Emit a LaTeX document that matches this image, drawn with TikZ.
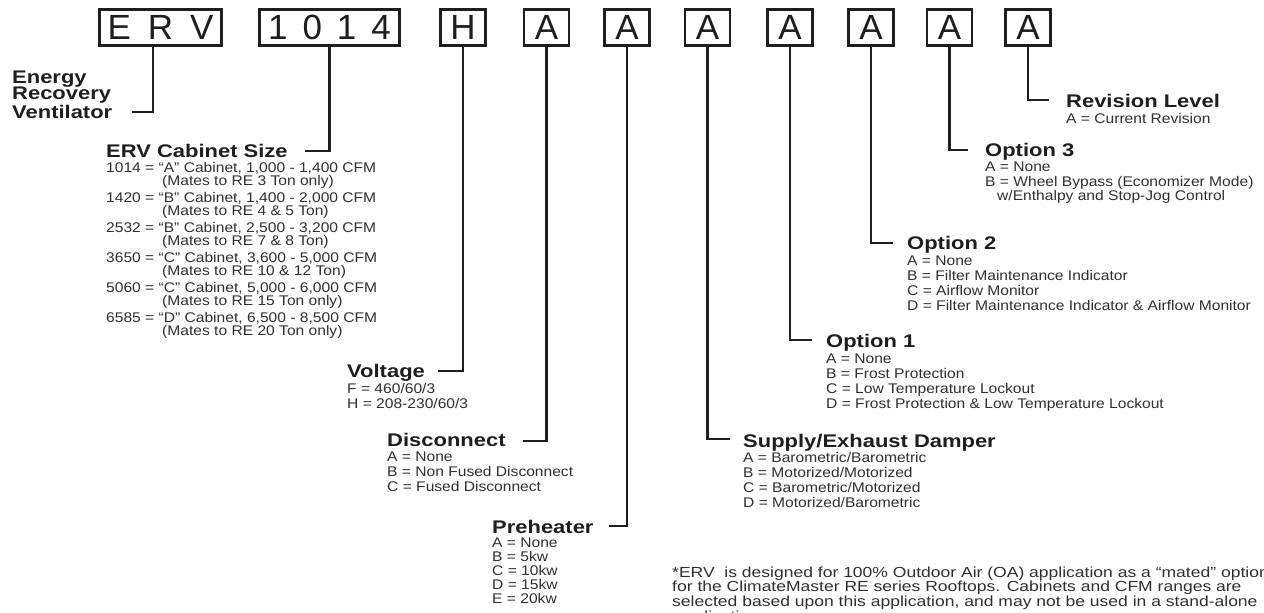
\documentclass[tikz,border=0pt]{standalone}
\usepackage{fontspec}
\setmainfont{Liberation Sans}[FakeStretch=1.114]
\newfontfamily\hfont{Liberation Sans}[FakeStretch=1.2]
\newfontfamily\boxfont{Liberation Sans}
\definecolor{ink}{HTML}{1E1E1E}
\definecolor{txt}{HTML}{303030}
\tikzset{
  codebox/.style={draw=ink, line width=2.8pt, minimum height=36pt, minimum width=45pt, inner sep=0pt,
    font=\boxfont\fontsize{35}{35}\selectfont, text=ink},
  conn/.style={draw=ink, line width=2.4pt},
  head/.style={anchor=base west, inner sep=0pt, align=left, font=\hfont\bfseries\fontsize{18.3}{16.5}\selectfont, text=ink},
  items/.style={anchor=base west, inner sep=0pt, align=left, font=\fontsize{14}{15}\selectfont, text=txt},
}
\begin{document}
\begin{tikzpicture}[x=1pt,y=-1pt]
\useasboundingbox[fill=white] (0,0) rectangle (1264,613);
% code boxes
\node[codebox, minimum width=122pt] (bERV) at (160.5,27.5) {\spaceskip=17pt\relax E R V};
\node[codebox, minimum width=140pt] (b1014) at (329.5,27.5) {\spaceskip=15pt\relax 1 0 1 4};
\node[codebox] (bH) at (463,27.5) {H};
\node[codebox] (bA1) at (546.5,27.5) {A};
\node[codebox] (bA2) at (627,27.5) {A};
\node[codebox] (bA3) at (707.5,27.5) {A};
\node[codebox] (bA4) at (790,27.5) {A};
\node[codebox] (bA5) at (871,27.5) {A};
\node[codebox] (bA6) at (949.5,27.5) {A};
\node[codebox] (bA7) at (1028,27.5) {A};
% headings (anchor = baseline of the last line)
\node[head] (hERV) at (12,118) {Energy\\Recovery\\Ventilator};
\node[head] (hSize) at (106,157.5) {ERV Cabinet Size};
\node[head] (hVolt) at (347,377.5) {Voltage};
\node[head] (hDisc) at (387,446.5) {Disconnect};
\node[head] (hPre) at (492,533.5) {Preheater};
\node[head] (hDamp) at (743,447.5) {Supply/Exhaust Damper};
\node[head] (hOpt1) at (826,347.5) {Option 1};
\node[head] (hOpt2) at (907,249.5) {Option 2};
\node[head] (hOpt3) at (985,156.5) {Option 3};
\node[head] (hRev) at (1066,107.5) {Revision Level};
% item lists (anchor = baseline of the last line)
\node[items, font=\fontsize{14}{13}\selectfont] (lSize) at (106,335.5) {1014 = “A” Cabinet, 1,000 - 1,400 CFM\\
\hspace*{56pt}(Mates to RE 3 Ton only)\\[3pt]
1420 = “B” Cabinet, 1,400 - 2,000 CFM\\
\hspace*{56pt}(Mates to RE 4 \& 5 Ton)\\[3pt]
2532 = “B” Cabinet, 2,500 - 3,200 CFM\\
\hspace*{56pt}(Mates to RE 7 \& 8 Ton)\\[3pt]
3650 = “C” Cabinet, 3,600 - 5,000 CFM\\
\hspace*{56pt}(Mates to RE 10 \& 12 Ton)\\[3pt]
5060 = “C” Cabinet, 5,000 - 6,000 CFM\\
\hspace*{56pt}(Mates to RE 15 Ton only)\\[3pt]
6585 = “D” Cabinet, 6,500 - 8,500 CFM\\
\hspace*{56pt}(Mates to RE 20 Ton only)};
\node[items] (lVolt) at (347,408.5) {F = 460/60/3\\H = 208-230/60/3};
\node[items] (lDisc) at (387,491.5) {A = None\\B = Non Fused Disconnect\\C = Fused Disconnect};
\node[items, font=\fontsize{14}{14}\selectfont] (lPre) at (492,603.5) {A = None\\B = 5kw\\C = 10kw\\D = 15kw\\E = 20kw};
\node[items] (lDamp) at (743,507.5) {A = Barometric/Barometric\\B = Motorized/Motorized\\C = Barometric/Motorized\\D = Motorized/Barometric};
\node[items] (lOpt1) at (826,408.5) {A = None\\B = Frost Protection\\C = Low Temperature Lockout\\D = Frost Protection \& Low Temperature Lockout};
\node[items] (lOpt2) at (907,310.5) {A = None\\B = Filter Maintenance Indicator\\C = Airflow Monitor\\D = Filter Maintenance Indicator \& Airflow Monitor};
\node[items, font=\fontsize{14}{14.5}\selectfont] (lOpt3) at (985,200.5) {A = None\\B = Wheel Bypass (Economizer Mode)\\\hspace*{12pt}w/Enthalpy and Stop-Jog Control};
\node[items] (lRev) at (1066,123.5) {A = Current Revision};
\node[items, font=\hfont\fontsize{14.6}{12.8}\selectfont] (note) at (672,621) {*ERV\ \ is designed for 100\% Outdoor Air (OA) application as a “mated” option\\
for the ClimateMaster RE series Rooftops. Cabinets and CFM ranges are\\
selected based upon this application, and may not be used in a stand-alone\\
\hspace*{3pt}application.};
% connector ends
\coordinate (eERV) at (132,112);
\coordinate (eSize) at (305,151);
\coordinate (eVolt) at (438,371);
\coordinate (eDisc) at (523,441);
\coordinate (ePre) at (609,526);
\coordinate (eDamp) at (730,439);
\coordinate (eOpt1) at (812,340);
\coordinate (eOpt2) at (893,243);
\coordinate (eOpt3) at (968,150);
\coordinate (eRev) at (1049,100);
% connectors
\draw[conn] ([xshift=-7.5pt]bERV.south) |- (eERV);
\draw[conn] (b1014.south) |- (eSize);
\draw[conn] (bH.south) |- (eVolt);
\draw[conn] (bA1.south) |- (eDisc);
\draw[conn] (bA2.south) |- (ePre);
\draw[conn] (bA3.south) |- (eDamp);
\draw[conn] (bA4.south) |- (eOpt1);
\draw[conn] (bA5.south) |- (eOpt2);
\draw[conn] (bA6.south) |- (eOpt3);
\draw[conn] (bA7.south) |- (eRev);
\end{tikzpicture}
\end{document}
